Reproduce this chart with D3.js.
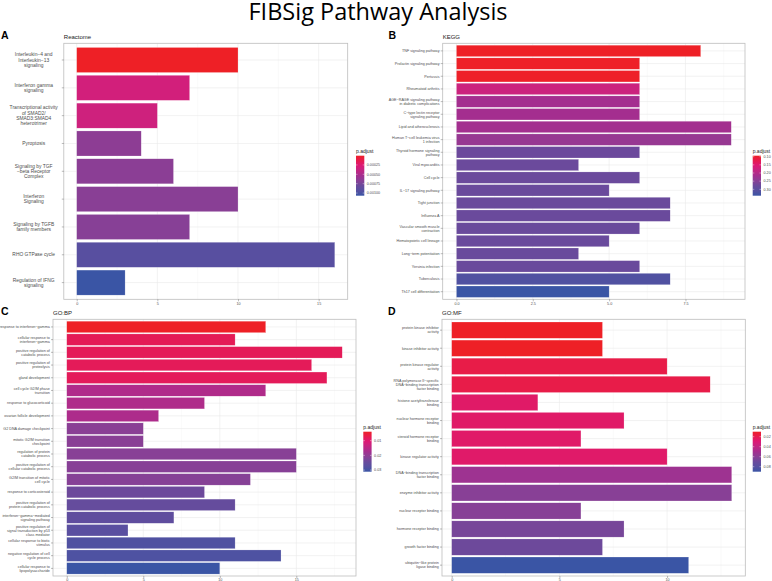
<!DOCTYPE html>
<html>
<head>
<meta charset="utf-8">
<script src="https://cdn.jsdelivr.net/npm/d3@7"></script>
<style>
  body { margin: 0; background: #fff; }
  svg { display: block; }
</style>
</head>
<body>
<svg width="772" height="581"></svg>
<script>

// ---- Reactome ----
const reactomeTerms = [
  "Interleukin\u22124 and\nInterleukin\u221213\nsignaling",
  "Interferon gamma\nsignaling",
  "Transcriptional activity\nof SMAD2/\nSMAD3:SMAD4\nheterotrimer",
  "Pyroptosis",
  "Signaling by TGF\n\u2212beta Receptor\nComplex",
  "Interferon\nSignaling",
  "Signaling by TGFB\nfamily members",
  "RHO GTPase cycle",
  "Regulation of IFNG\nsignaling"
]
const reactomeCounts = [10, 7, 5, 4, 6, 10, 7, 16, 3]
const reactomePadj = [0.000004, 0.00032, 0.00034, 0.00065, 0.00066, 0.00067, 0.00068, 0.00092, 0.00107]
const reactomeTicks = [0, 5, 10, 15]
const reactomeLegend = [0.00025, 0.0005, 0.00075, 0.001]

// ---- KEGG ----
const keggTerms = [
  "TNF signaling pathway",
  "Prolactin signaling pathway",
  "Pertussis",
  "Rheumatoid arthritis",
  "AGE\u2212RAGE signaling pathway\nin diabetic complications",
  "C\u2212type lectin receptor\nsignaling pathway",
  "Lipid and atherosclerosis",
  "Human T\u2212cell leukemia virus\n1 infection",
  "Thyroid hormone signaling\npathway",
  "Viral myocarditis",
  "Cell cycle",
  "IL\u221217 signaling pathway",
  "Tight junction",
  "Influenza A",
  "Vascular smooth muscle\ncontraction",
  "Hematopoietic cell lineage",
  "Long\u2212term potentiation",
  "Yersinia infection",
  "Tuberculosis",
  "Th17 cell differentiation"
]
const keggCounts = [8, 6, 6, 6, 6, 6, 9, 9, 6, 4, 6, 5, 7, 7, 6, 5, 4, 6, 7, 5]
const keggPadj = [0.094, 0.095, 0.096, 0.175, 0.216, 0.217, 0.218, 0.232, 0.276, 0.277,
  0.277, 0.278, 0.278, 0.278, 0.279, 0.279, 0.279, 0.28, 0.315, 0.339]
const keggTicks = [0, 2.5, 5, 7.5]
const keggLegend = [0.10, 0.15, 0.20, 0.25, 0.30]

// ---- GO:BP ----
const bpTerms = [
  "response to interferon\u2212gamma",
  "cellular response to\ninterferon\u2212gamma",
  "positive regulation of\ncatabolic process",
  "positive regulation of\nproteolysis",
  "gland development",
  "cell cycle G2/M phase\ntransition",
  "response to glucocorticoid",
  "ovarian follicle development",
  "G2 DNA damage checkpoint",
  "mitotic G2/M transition\ncheckpoint",
  "regulation of protein\ncatabolic process",
  "positive regulation of\ncellular catabolic process",
  "G2/M transition of mitotic\ncell cycle",
  "response to corticosteroid",
  "positive regulation of\nprotein catabolic process",
  "interferon\u2212gamma\u2212mediated\nsignaling pathway",
  "positive regulation of\nsignal transduction by p53\nclass mediator",
  "cellular response to biotic\nstimulus",
  "negative regulation of cell\ncycle process",
  "cellular response to\nlipopolysaccharide"
]
const bpCounts = [13, 11, 18, 16, 17, 13, 9, 6, 5, 5, 15, 15, 12, 9, 11, 7, 4, 11, 14, 10]
const bpPadj = [0.0039, 0.0079, 0.008, 0.0081, 0.0082, 0.0161, 0.0162, 0.0165, 0.0208, 0.0209,
  0.021, 0.0211, 0.0213, 0.024, 0.0251, 0.0262, 0.027, 0.0284, 0.0287, 0.0311]
const bpTicks = [0, 5, 10, 15]
const bpLegend = [0.01, 0.02, 0.03]

// ---- GO:MF ----
const mfTerms = [
  "protein kinase inhibitor\nactivity",
  "kinase inhibitor activity",
  "protein kinase regulator\nactivity",
  "RNA polymerase II\u2212specific\nDNA\u2212binding transcription\nfactor binding",
  "histone acetyltransferase\nbinding",
  "nuclear hormone receptor\nbinding",
  "steroid hormone receptor\nbinding",
  "kinase regulator activity",
  "DNA\u2212binding transcription\nfactor binding",
  "enzyme inhibitor activity",
  "nuclear receptor binding",
  "hormone receptor binding",
  "growth factor binding",
  "ubiquitin\u2212like protein\nligase binding"
]
const mfCounts = [7, 7, 10, 12, 4, 8, 6, 10, 13, 13, 6, 8, 7, 11]
const mfPadj = [0.01, 0.0101, 0.018, 0.0182, 0.026, 0.0262, 0.0264, 0.0266, 0.0524, 0.0604,
  0.0608, 0.066, 0.0692, 0.09]
const mfTicks = [0, 5, 10]
const mfLegend = [0.02, 0.04, 0.06, 0.08]

const svg = d3.select('svg')

// red -> magenta -> purple -> blue ramp used by every panel
const ramp = d3.scaleLinear()
  .domain([0, 0.25, 0.5, 0.75, 1])
  .range(["#EE2026", "#DC1976", "#A42E8F", "#6A4A9C", "#3A55A5"])
  .interpolate(d3.interpolateLab)

svg.append('text')
  .attr('x', 378).attr('y', 20)
  .attr('text-anchor', 'middle')
  .style('font-family', '"Open Sans", sans-serif')
  .style('font-size', '23.5px')
  .style('font-weight', 500)
  .attr('fill', '#000')
  .text('FIBSig Pathway Analysis')

const panels = [
  {letter: 'A', lx: 1, ly: 38.5, name: 'Reactome', terms: reactomeTerms, counts: reactomeCounts,
   padj: reactomePadj, ticks: reactomeTicks, fmt: d3.format('d'), legend: reactomeLegend, lfmt: d3.format('.5f'),
   box: [63.8, 43.3, 347.7, 299.3], xdom: [-0.8, 16.8], pdom: [0.000004, 0.00107], legX: 356, legY: 155.7,
   font: 4.9, center: true},
  {letter: 'B', lx: 388.5, ly: 38.5, name: 'KEGG', terms: keggTerms, counts: keggCounts,
   padj: keggPadj, ticks: keggTicks, fmt: d3.format('.1f'), legend: keggLegend, lfmt: d3.format('.2f'),
   box: [442.7, 43.3, 745, 299.3], xdom: [-0.45, 9.45], pdom: [0.094, 0.339], legX: 752.7, legY: 155.7, font: 3.7},
  {letter: 'C', lx: 1, ly: 315, name: 'GO:BP', terms: bpTerms, counts: bpCounts,
   padj: bpPadj, ticks: bpTicks, fmt: d3.format('d'), legend: bpLegend, lfmt: d3.format('.2f'),
   box: [53, 319.3, 356, 576], xdom: [-0.9, 18.9], pdom: [0.0039, 0.0311], legX: 363.3, legY: 431.7, font: 3.7},
  {letter: 'D', lx: 388, ly: 314.5, name: 'GO:MF', terms: mfTerms, counts: mfCounts,
   padj: mfPadj, ticks: mfTicks, fmt: d3.format('d'), legend: mfLegend, lfmt: d3.format('.2f'),
   box: [442, 319.3, 745.3, 576], xdom: [-0.45, 13.63], pdom: [0.01, 0.09], legX: 752.7, legY: 431.7, font: 3.7}
]

const drawPanel = (p, idx) => {
  const [x0, y0, x1, y1] = p.box
  const g = svg.append('g')

  const x = d3.scaleLinear().domain(p.xdom).range([x0, x1])
  const y = d3.scaleBand().domain(p.terms).range([y0, y1])
    .paddingInner(0.1).paddingOuter(0.15)
  const tOf = d3.scaleLinear().domain(p.pdom).range([0, 1]).clamp(true)
  const fill = v => ramp(tOf(v))

  // grid
  const minor = p.ticks.slice(0, -1).map((t, i) => (t + p.ticks[i + 1]) / 2)
  minor.push(p.ticks[p.ticks.length - 1] + (p.ticks[1] - p.ticks[0]) / 2)
  g.selectAll('.minor').data(minor.filter(v => x(v) < x1)).enter().append('line')
    .attr('x1', d => x(d)).attr('x2', d => x(d)).attr('y1', y0).attr('y2', y1)
    .attr('stroke', '#F3F3F3').attr('stroke-width', 0.4)
  g.selectAll('.major').data(p.ticks).enter().append('line')
    .attr('x1', d => x(d)).attr('x2', d => x(d)).attr('y1', y0).attr('y2', y1)
    .attr('stroke', '#E9E9E9').attr('stroke-width', 0.6)
  g.selectAll('.hgrid').data(p.terms).enter().append('line')
    .attr('x1', x0).attr('x2', x1)
    .attr('y1', d => y(d) + y.bandwidth() / 2).attr('y2', d => y(d) + y.bandwidth() / 2)
    .attr('stroke', '#E9E9E9').attr('stroke-width', 0.6)

  // bars
  g.selectAll('rect.bar').data(p.terms).enter().append('rect')
    .attr('class', 'bar')
    .attr('x', x(0))
    .attr('y', d => y(d))
    .attr('width', (d, i) => x(p.counts[i]) - x(0))
    .attr('height', y.bandwidth())
    .attr('fill', (d, i) => fill(p.padj[i]))
    .attr('stroke', '#fff').attr('stroke-opacity', 0.5).attr('stroke-width', 0.4)

  // border
  g.append('rect')
    .attr('x', x0).attr('y', y0).attr('width', x1 - x0).attr('height', y1 - y0)
    .attr('fill', 'none').attr('stroke', '#BDBDBD').attr('stroke-width', 0.8)

  // y axis
  const yAxis = g.append('g').attr('transform', `translate(${x0},0)`)
    .call(d3.axisLeft(y).tickSize(2).tickPadding(1.2))
  yAxis.select('.domain').remove()
  yAxis.selectAll('line').attr('stroke', '#555').attr('stroke-width', 0.4)
  const lh = p.font * 1.08
  yAxis.selectAll('text')
    .style('font-family', '"Liberation Sans", Arial, sans-serif')
    .style('font-size', p.font + 'px')
    .attr('fill', '#4D4D4D')
    .each(function (d) {
      const lines = d.split('\n')
      const t = d3.select(this).text(null).attr('dy', null)
      lines.forEach((ln, i) => {
        t.append('tspan')
          .attr('x', -3.2)
          .attr('dy', i === 0 ? (-(lines.length - 1) / 2 * lh + p.font * 0.35) : lh)
          .text(ln)
      })
    })
  if (p.center) {
    // centre every line inside the column of the widest line
    let maxW = 0
    yAxis.selectAll('tspan').each(function () {
      maxW = Math.max(maxW, this.getComputedTextLength())
    })
    yAxis.selectAll('text').attr('text-anchor', 'middle')
    yAxis.selectAll('tspan').attr('x', -6 - maxW / 2)
  }

  // x axis
  const xAxis = g.append('g').attr('transform', `translate(0,${y1})`)
    .call(d3.axisBottom(x).tickValues(p.ticks).tickFormat(p.fmt).tickSize(2).tickPadding(0.8))
  xAxis.select('.domain').remove()
  xAxis.selectAll('line').attr('stroke', '#555').attr('stroke-width', 0.4)
  xAxis.selectAll('text')
    .style('font-family', '"Liberation Sans", Arial, sans-serif')
    .style('font-size', '3.7px')
    .attr('fill', '#4D4D4D')

  // panel letter and title
  svg.append('text').attr('x', p.lx).attr('y', p.ly)
    .style('font-family', '"Liberation Sans", Arial, sans-serif')
    .style('font-size', '10.5px').style('font-weight', 'bold')
    .text(p.letter)
  svg.append('text').attr('x', x0).attr('y', y0 - 4.3)
    .style('font-family', '"Liberation Sans", Arial, sans-serif')
    .style('font-size', '6px').attr('fill', '#222')
    .text(p.name)

  // colour bar legend
  const lw = 8.3, lbh = 40
  const gradId = 'grad' + idx
  const grad = svg.append('defs').append('linearGradient').attr('id', gradId)
    .attr('x1', 0).attr('x2', 0).attr('y1', 0).attr('y2', 1)
  d3.range(0, 1.0001, 0.05).forEach(t => {
    grad.append('stop').attr('offset', t).attr('stop-color', ramp(t))
  })
  const ly = d3.scaleLinear().domain(p.pdom).range([p.legY, p.legY + lbh])
  svg.append('text').attr('x', p.legX).attr('y', p.legY - 2.6)
    .style('font-family', '"Liberation Sans", Arial, sans-serif')
    .style('font-size', '5px').attr('fill', '#222')
    .text('p.adjust')
  svg.append('rect').attr('x', p.legX).attr('y', p.legY).attr('width', lw).attr('height', lbh)
    .attr('fill', `url(#${gradId})`)
  const lg = svg.append('g')
  lg.selectAll('line.l').data(p.legend).enter().append('line')
    .attr('x1', p.legX).attr('x2', p.legX + 1.6)
    .attr('y1', d => ly(d)).attr('y2', d => ly(d))
    .attr('stroke', '#fff').attr('stroke-width', 0.4)
  lg.selectAll('line.r').data(p.legend).enter().append('line')
    .attr('x1', p.legX + lw - 1.6).attr('x2', p.legX + lw)
    .attr('y1', d => ly(d)).attr('y2', d => ly(d))
    .attr('stroke', '#fff').attr('stroke-width', 0.4)
  lg.selectAll('text').data(p.legend).enter().append('text')
    .attr('x', p.legX + lw + 2.5).attr('y', d => ly(d) + 1.3)
    .style('font-family', '"Liberation Sans", Arial, sans-serif')
    .style('font-size', '3.7px').attr('fill', '#4D4D4D')
    .text(d => p.lfmt(d))
}

panels.forEach(drawPanel)

</script>
</body>
</html>
